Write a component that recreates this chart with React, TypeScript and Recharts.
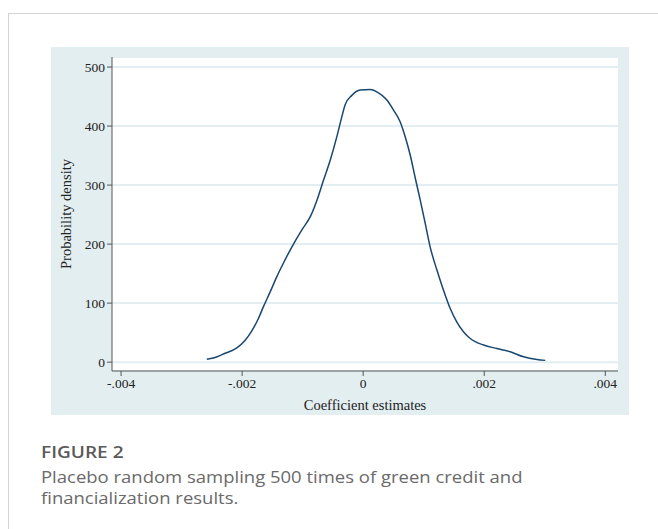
import React from "react";
import {
  LineChart,
  Line,
  XAxis,
  YAxis,
  CartesianGrid,
  Label,
} from "recharts";

// kernel density of the placebo coefficient estimates
const coefValues = [
  -0.002583, -0.002474, -0.002281, -0.002088, -0.00195, -0.00184, -0.001731,
  -0.001648, -0.001537, -0.001426, -0.001317, -0.001179, -0.001013, -0.000876,
  -0.000765, -0.000656, -0.000545, -0.000435, -0.000352, -0.000298, -0.000187,
  -0.00005, 0.000116, 0.000226, 0.000392, 0.000501, 0.000612, 0.000694,
  0.000777, 0.00086, 0.000942, 0.001025, 0.001107, 0.001218, 0.001327,
  0.001438, 0.001548, 0.001769, 0.001988, 0.00221, 0.00243, 0.00265, 0.00287,
  0.003008,
];
const densityValues = [
  5, 7, 15, 24, 37, 53, 74, 94, 119, 145, 168, 195, 224, 246, 274, 308, 342,
  382, 416, 436, 452, 461, 462, 458, 444, 427, 407, 382, 351, 312, 275, 235,
  195, 156, 122, 91, 68, 40, 29, 23, 17.5, 9, 4.5, 3,
];
const xTicks = [-0.004, -0.002, 0, 0.002, 0.004];
const yTicks = [0, 100, 200, 300, 400, 500];

const data = coefValues.map((c, i) => ({ coef: c, density: densityValues[i] }));

const fmtX = (v: number) =>
  v === 0 ? "0" : v.toFixed(3).replace("0.", ".");

const serif = "'Liberation Serif', 'Times New Roman', serif";
const tickStyle = { fontFamily: serif, fontSize: 13.5, fill: "#222" };

export default function App() {
  return (
    <div
      style={{
        position: "absolute",
        left: 0,
        top: 0,
        width: 658,
        height: 529,
        background: "#fff",
        overflow: "hidden",
      }}
    >
      <div
        style={{
          position: "absolute",
          left: 8,
          top: 13,
          width: 700,
          height: 600,
          borderTop: "1px solid #d4d4d4",
          borderLeft: "1px solid #d4d4d4",
        }}
      />
      <div
        style={{
          position: "absolute",
          left: 51,
          top: 47,
          width: 578,
          height: 368,
          background: "#e3eef0",
        }}
      >
        <LineChart
          width={578}
          height={368}
          data={data}
          margin={{ top: 10, right: 11, bottom: 14, left: 11 }}
        >
          <CartesianGrid
            vertical={false}
            stroke="#e3eef2"
            strokeWidth={2}
            fill="#ffffff"
          />
          <XAxis
            dataKey="coef"
            type="number"
            domain={[-0.00415, 0.00421]}
            ticks={xTicks}
            tickFormatter={fmtX}
            allowDataOverflow
            height={30}
            tickSize={5}
            stroke="#555"
            tick={tickStyle}
          >
            <Label
              value="Coefficient estimates"
              position="insideBottom"
              offset={-9}
              style={{ fontFamily: serif, fontSize: 14.5, fill: "#222" }}
            />
          </XAxis>
          <YAxis
            type="number"
            domain={[-15, 517]}
            ticks={yTicks}
            allowDataOverflow
            width={50}
            tickSize={5}
            stroke="#555"
            tick={tickStyle}
          >
            <Label
              value="Probability density"
              angle={-90}
              position="insideLeft"
              offset={4}
              style={{
                fontFamily: serif,
                fontSize: 14.5,
                fill: "#222",
                textAnchor: "middle",
              }}
            />
          </YAxis>
          <Line
            type="monotone"
            dataKey="density"
            stroke="#1a476f"
            strokeWidth={1.5}
            dot={false}
            isAnimationActive={false}
          />
        </LineChart>
      </div>
      <div
        style={{
          position: "absolute",
          left: 41,
          top: 440,
          width: 560,
          fontFamily: "'Open Sans', 'Noto Sans', sans-serif",
          color: "#6a6a6a",
          transform: "scaleX(1.12)",
          transformOrigin: "left top",
        }}
      >
        <div style={{ fontSize: 17, fontWeight: 600, color: "#5a5a5a", lineHeight: "24px" }}>
          FIGURE 2
        </div>
        <div style={{ fontSize: 16.5, lineHeight: "21px", fontWeight: 400, marginTop: 2 }}>
          Placebo random sampling 500 times of green credit and
          <br />
          financialization results.
        </div>
      </div>
    </div>
  );
}
